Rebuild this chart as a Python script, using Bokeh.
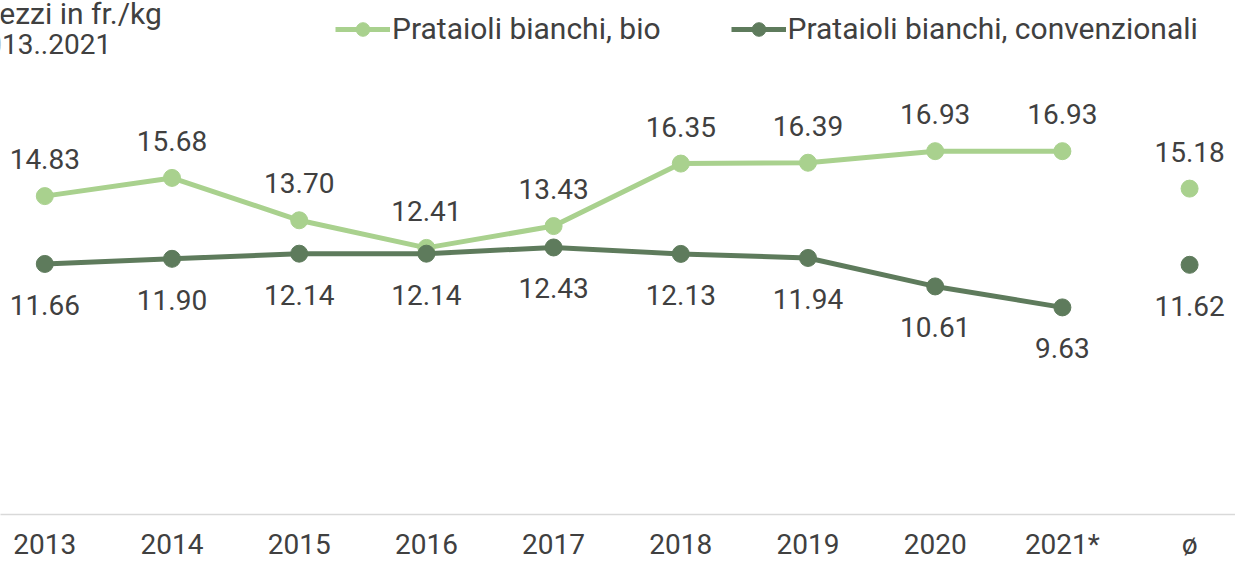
from bokeh.plotting import figure
from bokeh.models import Range1d, FixedTicker, Legend, LegendItem, Label, ColumnDataSource
from bokeh.core.properties import value
from bokeh.embed import file_html
from bokeh.resources import INLINE

categories = ["2013", "2014", "2015", "2016", "2017", "2018", "2019", "2020", "2021*", "ø"]
bio = [14.83, 15.68, 13.70, 12.41, 13.43, 16.35, 16.39, 16.93, 16.93, 15.18]
conv = [11.66, 11.90, 12.14, 12.14, 12.43, 12.13, 11.94, 10.61, 9.63, 11.62]
n_years = 9  # last category is the average (not connected)
series_names = ["Prataioli bianchi, bio", "Prataioli bianchi, convenzionali"]
title_lines = ["Prezzi in fr./kg", "2013..2021"]

C_BIO = "#a9d18e"
C_CONV = "#5e7b5c"
TXT = "#404040"
FONT = "Roboto"

xs = list(range(len(categories)))

W, H = 1235, 563
p = figure(width=W, height=H, output_backend="svg", toolbar_location=None,
           x_range=Range1d(-0.3483, 9.361), y_range=Range1d(-0.047, 23.97),
           min_border_left=0, min_border_right=0, min_border_top=0, min_border_bottom=0)
p.yaxis.visible = False
p.xgrid.visible = False
p.ygrid.visible = False
p.outline_line_color = None
p.background_fill_color = "white"
p.border_fill_color = "white"

p.xaxis.ticker = FixedTicker(ticks=xs)
p.xaxis.major_label_overrides = {i: c for i, c in enumerate(categories)}
p.xaxis.axis_line_color = "#d9d9d9"
p.xaxis.axis_line_width = 1.5
p.xaxis.major_tick_line_color = None
p.xaxis.minor_tick_line_color = None
p.xaxis.major_tick_out = 0
p.xaxis.major_tick_in = 0
p.xaxis.major_label_standoff = 13
p.xaxis.major_label_text_font = FONT
p.xaxis.major_label_text_font_size = "28px"
p.xaxis.major_label_text_color = TXT

src_bio = ColumnDataSource(dict(x=xs[:n_years], y=bio[:n_years]))
src_conv = ColumnDataSource(dict(x=xs[:n_years], y=conv[:n_years]))
src_bio_all = ColumnDataSource(dict(x=xs, y=bio, t=[f"{v:.2f}" for v in bio]))
src_conv_all = ColumnDataSource(dict(x=xs, y=conv, t=[f"{v:.2f}" for v in conv]))

l_bio = p.line("x", "y", source=src_bio, line_color=C_BIO, line_width=5)
s_bio = p.scatter("x", "y", source=src_bio_all, size=17, fill_color=C_BIO, line_color=C_BIO)
l_conv = p.line("x", "y", source=src_conv, line_color=C_CONV, line_width=5)
s_conv = p.scatter("x", "y", source=src_conv_all, size=17, fill_color=C_CONV, line_color=C_CONV)

p.text("x", "y", text="t", source=src_bio_all, text_align="center", text_baseline="middle",
       y_offset=-37, text_font=value(FONT), text_font_size="28px", text_color=TXT)
p.text("x", "y", text="t", source=src_conv_all, text_align="center", text_baseline="middle",
       y_offset=41, text_font=value(FONT), text_font_size="28px", text_color=TXT)

legend = Legend(items=[LegendItem(label=series_names[0], renderers=[l_bio, s_bio]),
                       LegendItem(label=series_names[1], renderers=[l_conv, s_conv])],
                orientation="horizontal", location=(335, 468),
                label_text_font=FONT, label_text_font_size="30px", label_text_color=TXT,
                glyph_width=55, glyph_height=34, label_standoff=2, spacing=70,
                padding=0, margin=0, border_line_alpha=0, background_fill_alpha=0)
p.add_layout(legend, "center")

for txt, yb, fs, x0 in zip(title_lines, [501, 471], ["30px", "28px"], [-30, -30]):
    p.add_layout(Label(x=x0, y=yb, x_units="screen", y_units="screen", text=txt,
                       text_font=FONT, text_font_size=fs, text_color=TXT,
                       text_baseline="alphabetic", text_align="left"))

open("out.html", "w").write(file_html(p, INLINE))
